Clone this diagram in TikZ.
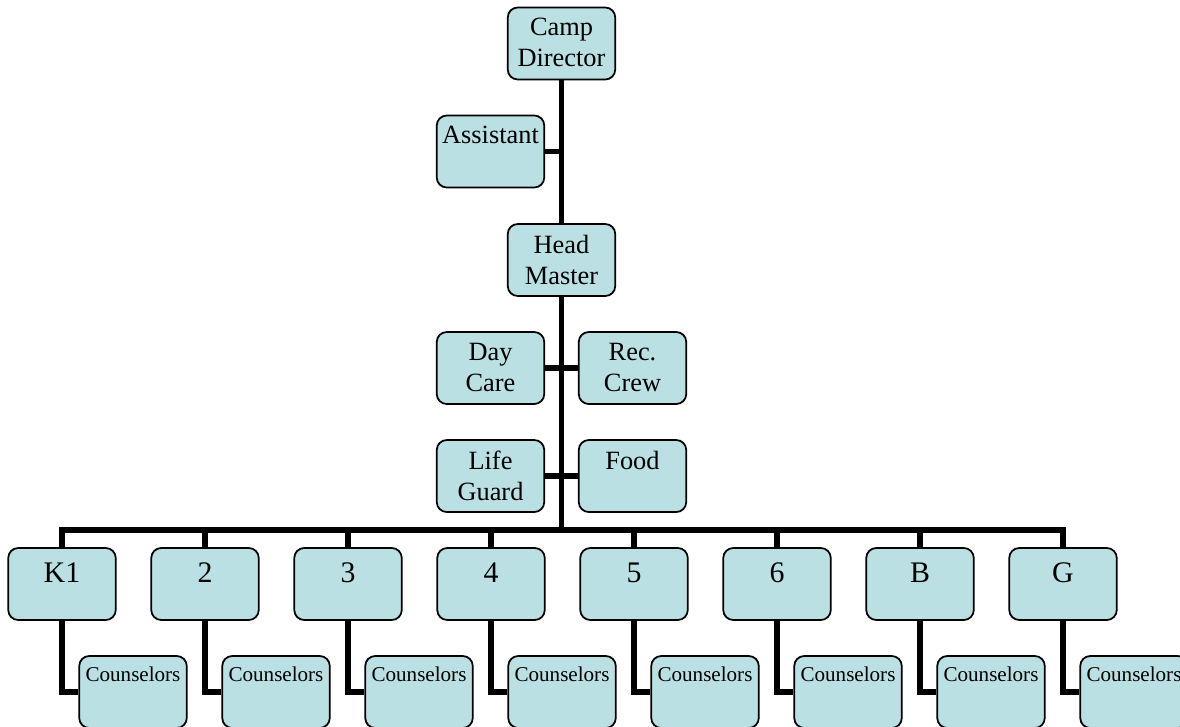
\documentclass[tikz,border=0pt]{standalone}
\usepackage{fontspec}
\setmainfont{Liberation Serif}
\usetikzlibrary{positioning,backgrounds}

\definecolor{boxfill}{RGB}{187,224,227}

\tikzset{
  unit/.style={draw=black, line width=1pt, rounded corners=2mm, fill=boxfill, inner sep=0pt,
    execute at begin node={\begin{minipage}[c][14.4mm][t]{21.5mm}\centering\vspace*{#1}},
    execute at end node={\end{minipage}}},
  staff/.style={unit=2.2mm, font=\fontsize{15}{17.6}\selectfont},
  grade/.style={unit=3mm, font=\fontsize{17}{20}\selectfont},
  helper/.style={unit=2.1mm, font=\fontsize{12}{13.5}\selectfont},
  link/.style={line width=3.4pt}
}

\begin{document}
\begin{tikzpicture}[x=0.2mm,y=-0.2mm,on grid,node distance=21.6mm and 14.2mm]
   \useasboundingbox (0,0) rectangle (1180,727);
   \clip (0,0) rectangle (1180,727);
   % top of the chart
   \node[staff] (dir) at (561.5,43.5) {Camp\\Director};
   \node[staff] (asst) [below left=of dir] {Assistant};
   \node[staff] (head) [below=43.3mm of dir] {Head\\Master};
   \node[staff] (day) [below left=of head] {Day\\Care};
   \node[staff] (rec) [below right=of head] {Rec.\\Crew};
   \node[staff] (life) [below=of day] {Life\\Guard};
   \node[staff] (food) [below=of rec] {Food};
   % grades
   \node[grade] (k1) at (62,584) {K1};
   \foreach \name/\txt [remember=\name as \prev (initially k1)] in {g2/2,g3/3,g4/4,g5/5,g6/6,gb/B,gg/G}
     \node[grade] (\name) [right=28.6mm of \prev] {\txt};
   \foreach \name in {k1,g2,g3,g4,g5,g6,gb,gg}
     \node[helper] (c\name) [below right=of \name] {Counselors};
   % connectors behind the boxes
   \begin{scope}[on background layer]
     \coordinate (bus) at (dir.south |- 0,530);
     \draw[link] (dir.south) -- (bus);
     \draw[link] (asst.east) -- (asst.east -| dir.south);
     \draw[link] (day.east) -- (rec.west);
     \draw[link] (life.east) -- (food.west);
     \foreach \name in {k1,g2,g3,g4,g5,g6,gb,gg} {
       \draw[link] (bus) -| (\name.north);
       \draw[link] (\name.south) |- (c\name.west);
     }
   \end{scope}
\end{tikzpicture}
\end{document}
